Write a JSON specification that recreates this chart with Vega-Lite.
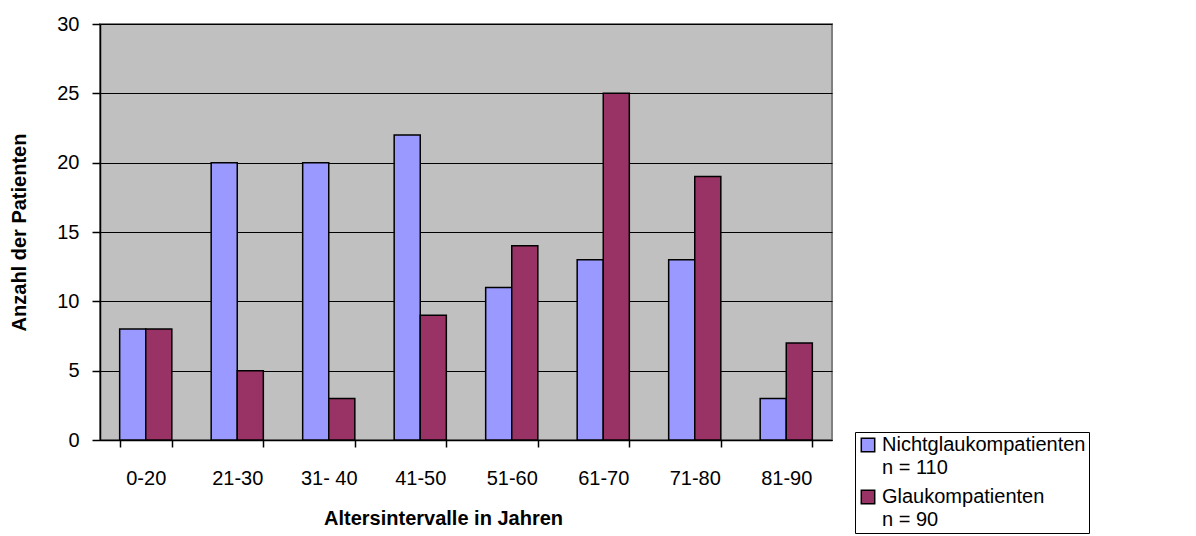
{
  "$schema": "https://vega.github.io/schema/vega-lite/v6.json",
  "width": 732,
  "height": 416,
  "autosize": {"type": "none"},
  "padding": {"left": 100, "top": 24, "right": 364, "bottom": 96},
  "background": "white",
  "config": {
    "font": "Liberation Sans",
    "view": {"fill": "#C0C0C0", "stroke": "#808080", "strokeWidth": 2},
    "style": {"guide-label": {"lineHeight": 23}}
  },
  "data": {
    "values": [
      {"Alter": "0-20", "Gruppe": "Nichtglaukompatienten", "Anzahl": 8},
      {"Alter": "0-20", "Gruppe": "Glaukompatienten", "Anzahl": 8},
      {"Alter": "21-30", "Gruppe": "Nichtglaukompatienten", "Anzahl": 20},
      {"Alter": "21-30", "Gruppe": "Glaukompatienten", "Anzahl": 5},
      {"Alter": "31- 40", "Gruppe": "Nichtglaukompatienten", "Anzahl": 20},
      {"Alter": "31- 40", "Gruppe": "Glaukompatienten", "Anzahl": 3},
      {"Alter": "41-50", "Gruppe": "Nichtglaukompatienten", "Anzahl": 22},
      {"Alter": "41-50", "Gruppe": "Glaukompatienten", "Anzahl": 9},
      {"Alter": "51-60", "Gruppe": "Nichtglaukompatienten", "Anzahl": 11},
      {"Alter": "51-60", "Gruppe": "Glaukompatienten", "Anzahl": 14},
      {"Alter": "61-70", "Gruppe": "Nichtglaukompatienten", "Anzahl": 13},
      {"Alter": "61-70", "Gruppe": "Glaukompatienten", "Anzahl": 25},
      {"Alter": "71-80", "Gruppe": "Nichtglaukompatienten", "Anzahl": 13},
      {"Alter": "71-80", "Gruppe": "Glaukompatienten", "Anzahl": 19},
      {"Alter": "81-90", "Gruppe": "Nichtglaukompatienten", "Anzahl": 3},
      {"Alter": "81-90", "Gruppe": "Glaukompatienten", "Anzahl": 7}
    ]
  },
  "mark": {"type": "bar", "stroke": "black", "strokeWidth": 1.5},
  "encoding": {
    "x": {
      "field": "Alter",
      "type": "nominal",
      "sort": null,
      "scale": {"paddingInner": 0.43, "paddingOuter": 0.215},
      "axis": {
        "title": "Altersintervalle in Jahren",
        "titleFontSize": 20,
        "titleFontWeight": "bold",
        "titlePadding": 20,
        "titleX": 343,
        "labelAngle": 0,
        "labelFontSize": 20,
        "labelPadding": 21,
        "labelColor": "black",
        "tickBand": "extent",
        "tickSize": 7,
        "tickColor": "black",
        "domainColor": "black",
        "domainWidth": 1.5,
        "tickWidth": 1.5
      }
    },
    "xOffset": {"field": "Gruppe", "type": "nominal", "sort": ["Nichtglaukompatienten", "Glaukompatienten"]},
    "y": {
      "field": "Anzahl",
      "type": "quantitative",
      "scale": {"domain": [0, 30], "nice": false},
      "axis": {
        "title": "Anzahl der Patienten",
        "titleFontSize": 20,
        "titleFontWeight": "bold",
        "titlePadding": 27,
        "values": [0, 5, 10, 15, 20, 25, 30],
        "labelFontSize": 20,
        "labelPadding": 13,
        "labelColor": "black",
        "tickSize": 8,
        "tickColor": "black",
        "tickWidth": 1.5,
        "domainColor": "black",
        "domainWidth": 1.5,
        "grid": true,
        "gridColor": "black",
        "gridWidth": 1.2
      }
    },
    "fill": {
      "field": "Gruppe",
      "type": "nominal",
      "sort": ["Nichtglaukompatienten", "Glaukompatienten"],
      "scale": {"domain": ["Nichtglaukompatienten", "Glaukompatienten"], "range": ["#9999FF", "#993366"]},
      "legend": {
        "title": null,
        "orient": "none",
        "legendX": 755,
        "legendY": 408,
        "fillColor": "white",
        "strokeColor": "black",
        "padding": 3,
        "symbolType": "square",
        "symbolSize": 180,
        "symbolStrokeColor": "black",
        "symbolStrokeWidth": 1.5,
        "labelFontSize": 20,
        "labelColor": "black",
        "labelOffset": 4,
        "labelBaseline": "middle",
        "symbolOffset": 0,
        "rowPadding": 9,
        "labelLimit": 400,
        "labelExpr": "datum.label == 'Nichtglaukompatienten' ? ['Nichtglaukompatienten', 'n = 110'] : ['Glaukompatienten', 'n = 90']"
      }
    }
  }
}
